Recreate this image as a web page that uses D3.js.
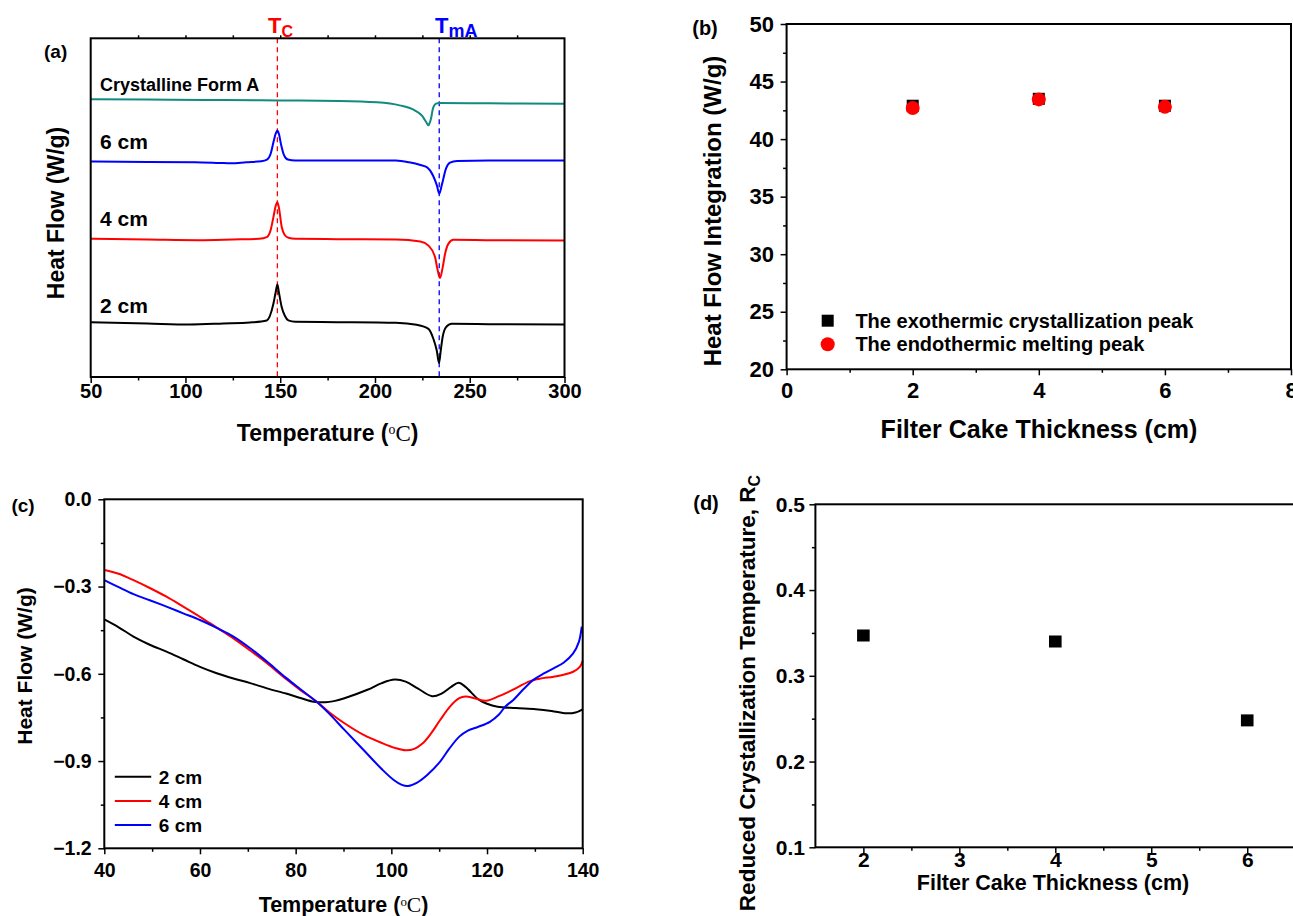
<!DOCTYPE html>
<meta charset="utf-8">
<style>
body { margin: 0; background: #fff; }
svg { display: block; }
text { font-family: "Liberation Sans", Arial, sans-serif; font-weight: bold; fill: #000; }
.frame { fill: none; stroke: #000; stroke-width: 2; }
.axis path { display: none; }
.axis line { stroke: #000; stroke-width: 1.5; }
.curve { fill: none; stroke-width: 2; }
</style>
<body>
<script src="https://d3js.org/d3.v7.min.js"></script>
<script>

// ---------- data ----------
// (a) DSC curves, [temperature, heat flow (a.u., stacked)]
var formA = [[50,8.20],[80,8.19],[110,8.18],[140,8.17],[160,8.16],[181,8.15],[201,8.11],[213,8.02],[221,7.87],
  [225,7.70],[226.4,7.58],[227.5,7.48],[228.2,7.43],[229,7.52],[229.6,7.64],[230.6,7.93],[232.2,8.07],[234,8.09],
  [260,8.08],[300,8.07]];
var a6cm = [[50,6.36],[80,6.35],[105,6.34],[118,6.32],[124,6.31],[132,6.34],[140,6.37],[143,6.42],[145,6.6],
  [146.5,6.95],[147.7,7.2],[148.5,7.28],[149.3,7.18],[150.5,6.85],[152,6.55],[154,6.42],[158,6.39],[180,6.39],
  [211,6.39],[218,6.34],[224,6.26],[227.5,6.19],[230.6,5.95],[232.7,5.65],[233.9,5.41],[235.3,5.68],[237.5,6.16],
  [239.6,6.33],[243.3,6.38],[260,6.39],[300,6.39]];
var a4cm = [[50,4.08],[80,4.06],[107,4.04],[125,4.06],[139,4.08],[142.9,4.13],[145,4.35],[146.4,4.72],[147.6,5.05],
  [148.5,5.16],[149.3,5.0],[150.8,4.43],[152.3,4.2],[154.3,4.11],[158,4.08],[180,4.07],[211,4.06],[223.9,4.00],
  [228.2,3.88],[231.7,3.54],[232.9,3.20],[234.3,2.92],[235.7,3.23],[237,3.64],[238.7,3.93],[241.3,4.05],
  [260,4.04],[300,4.03]];
var a2cm = [[50,1.62],[80,1.58],[102,1.55],[120,1.58],[134,1.61],[142.9,1.67],[146.4,2.16],[147.6,2.5],[148.5,2.73],
  [149.3,2.5],[150.8,2.06],[152.5,1.8],[154.3,1.67],[158,1.63],[180,1.62],[211,1.60],[222,1.54],[228.2,1.42],
  [230.8,1.13],[232.6,0.78],[233.8,0.41],[234.7,0.78],[235.7,1.18],[237.5,1.47],[240.5,1.57],[260,1.56],[300,1.55]];
var tempTc = 148.5, tempTmA = 233.9;

// (b) heat flow integration
var thicknessB = [2, 4, 6];
var exoPeak = [42.9, 43.5, 42.9];
var endoPeak = [42.7, 43.45, 42.8];

// (c) heat flow, [temperature, W/g]
var c2cm = [[40,-0.413],[43,-0.44],[46.1,-0.472],[49.5,-0.50],[53,-0.524],[56.5,-0.55],[60,-0.576],[63.5,-0.598],
  [67,-0.616],[70.5,-0.632],[74,-0.650],[78,-0.668],[81,-0.683],[83.8,-0.696],[86.2,-0.698],[88,-0.694],
  [90.2,-0.684],[95,-0.655],[98,-0.632],[100.7,-0.620],[103,-0.627],[105.5,-0.65],[108.5,-0.677],[110.5,-0.668],
  [112.5,-0.645],[114.1,-0.631],[115.5,-0.645],[118.2,-0.688],[120,-0.703],[122.2,-0.713],[126,-0.718],
  [130.2,-0.722],[133.5,-0.728],[136.6,-0.736],[138.5,-0.733],[140,-0.722]];
var c4cm = [[40,-0.243],[43,-0.256],[46.1,-0.278],[49.5,-0.305],[53,-0.335],[56.5,-0.369],[60,-0.404],[63.5,-0.441],
  [67,-0.478],[70.5,-0.52],[74,-0.564],[78,-0.618],[81,-0.656],[84.5,-0.697],[87,-0.732],[90.2,-0.770],
  [94.2,-0.810],[98.2,-0.839],[101,-0.856],[103,-0.863],[104.8,-0.858],[106.5,-0.840],[108.3,-0.805],[110.2,-0.759],
  [112.3,-0.712],[114.2,-0.684],[115.5,-0.678],[117.4,-0.684],[119.8,-0.693],[122.5,-0.677],[125,-0.658],
  [129,-0.625],[131,-0.617],[133.9,-0.610],[136,-0.603],[138,-0.593],[139.4,-0.576],[140,-0.555]];
var c6cm = [[40,-0.278],[43,-0.302],[46.1,-0.326],[49.5,-0.347],[53,-0.369],[56.5,-0.392],[60,-0.415],[63.5,-0.442],
  [67,-0.472],[70.5,-0.512],[74,-0.558],[78,-0.614],[81,-0.653],[84.5,-0.698],[87,-0.737],[90.2,-0.793],
  [94.2,-0.862],[98.2,-0.931],[100.5,-0.965],[102.2,-0.982],[103.5,-0.986],[105.3,-0.975],[107.5,-0.948],
  [110.2,-0.902],[112,-0.860],[114.2,-0.816],[116,-0.795],[118.2,-0.782],[120.6,-0.765],[122.5,-0.74],
  [123.8,-0.713],[125.5,-0.690],[127.5,-0.655],[129.7,-0.621],[132,-0.598],[133.9,-0.581],[136,-0.562],
  [138,-0.530],[139.2,-0.49],[139.8,-0.438]];
var legendC = ["2 cm", "4 cm", "6 cm"];

// (d) reduced crystallization temperature
var thicknessD = [2, 4, 6];
var rc = [0.347, 0.340, 0.248];

// ---------- helpers ----------
var svg = d3.select("body").append("svg").attr("width", 1293).attr("height", 916);

function addTicks(make, pos, major, minor, fmt, fs) {
  svg.append("g").attr("class", "axis").attr("transform", pos)
      .call(make().tickValues(minor).tickSize(3.5).tickFormat(""));
  var g = svg.append("g").attr("class", "axis").attr("transform", pos)
      .call(make().tickValues(major).tickSize(6).tickFormat(fmt));
  g.attr("font-family", null).attr("font-size", null);
  g.selectAll("text").style("font-size", fs + "px");
  return g;
}

function frame(x, y) {
  svg.append("rect").attr("class", "frame")
      .attr("x", x.range()[0]).attr("y", y.range()[1])
      .attr("width", x.range()[1] - x.range()[0])
      .attr("height", y.range()[0] - y.range()[1]);
}

function label(x, y, txt, fs, rot, anchor) {
  return svg.append("text")
      .attr("transform", "translate(" + x + "," + y + ")" + (rot ? " rotate(-90)" : ""))
      .attr("text-anchor", anchor || "middle")
      .style("font-size", fs + "px")
      .text(txt);
}

function tempTitle(x, y, fs) {
  var t = label(x, y, "Temperature (", fs);
  t.append("tspan").style("font-family", "'Liberation Serif', serif").style("font-weight", "normal")
      .style("font-size", (fs * 0.6) + "px").attr("dy", -fs * 0.3).text("o");
  t.append("tspan").style("font-family", "'Liberation Serif', serif").style("font-weight", "normal")
      .attr("dy", fs * 0.3).text("C");
  t.append("tspan").text(")");
}

// ---------- panel (a) ----------
var xA = d3.scaleLinear().domain([50, 300]).range([90.7, 564.5]);
var yA = d3.scaleLinear().domain([0, 10]).range([377, 38.3]);

var lineA = d3.line().x(function(d) { return xA(d[0]); }).y(function(d) { return yA(d[1]); })
    .curve(d3.curveMonotoneX);

// dashed reference lines
svg.append("line").attr("x1", xA(tempTc)).attr("x2", xA(tempTc)).attr("y1", yA(10)).attr("y2", yA(0))
    .attr("stroke", "#ff0000").attr("stroke-width", 1.3).attr("stroke-dasharray", "5,4");
svg.append("line").attr("x1", xA(tempTmA)).attr("x2", xA(tempTmA)).attr("y1", yA(10)).attr("y2", yA(0))
    .attr("stroke", "#0000ff").attr("stroke-width", 1.3).attr("stroke-dasharray", "5,4");

[[formA, "#138a80"], [a6cm, "#0000ff"], [a4cm, "#ff0000"], [a2cm, "#000000"]].forEach(function(s) {
  svg.append("path").attr("class", "curve").attr("d", lineA(s[0])).attr("stroke", s[1]);
});

frame(xA, yA);
var axA = addTicks(function() { return d3.axisBottom(xA); }, "translate(0," + yA(0) + ")",
    [50, 100, 150, 200, 250, 300], [75, 125, 175, 225, 275], d3.format("d"), 20);
axA.selectAll("text").attr("y", 21).attr("dy", 0);
svg.append("g").attr("class", "axis").attr("transform", "translate(0," + yA(10) + ")")
    .call(d3.axisTop(xA).tickValues([75, 100, 125, 150, 175, 200, 225, 250, 275]).tickSize(3).tickFormat(""));

tempTitle(327.6, 441, 23);
label(64, 213, "Heat Flow (W/g)", 23, true);
label(44, 58, "(a)", 19, false, "start");
label(100, 90.7, "Crystalline Form A", 18, false, "start");
label(100, 149.3, "6 cm", 21, false, "start");
label(100, 225.7, "4 cm", 21, false, "start");
label(100, 312.7, "2 cm", 21, false, "start");

var tc = label(268, 33, "", 22, false, "start").style("fill", "#ff0000");
tc.append("tspan").text("T");
tc.append("tspan").style("font-size", "16px").attr("dy", 4).text("C");
var tm = label(435, 33, "", 22, false, "start").style("fill", "#0000ff");
tm.append("tspan").text("T");
tm.append("tspan").style("font-size", "18px").attr("dy", 4).text("mA");

// ---------- panel (b) ----------
var xB = d3.scaleLinear().domain([0, 8]).range([786.6, 1291]);
var yB = d3.scaleLinear().domain([20, 50]).range([369.3, 24]);

frame(xB, yB);
var axBx = addTicks(function() { return d3.axisBottom(xB); }, "translate(0," + yB(20) + ")",
    [0, 2, 4, 6, 8], [1, 3, 5, 7], d3.format("d"), 22);
axBx.selectAll("text").attr("y", 29).attr("dy", 0);
var axBy = addTicks(function() { return d3.axisLeft(yB); }, "translate(" + xB(0) + ",0)",
    [20, 25, 30, 35, 40, 45, 50], [22.5, 27.5, 32.5, 37.5, 42.5, 47.5], d3.format("d"), 22);
axBy.selectAll("text").attr("x", -12.6);

svg.selectAll(".sqB").data(thicknessB).enter().append("rect")
    .attr("x", function(d) { return xB(d) - 6; })
    .attr("y", function(d, i) { return yB(exoPeak[i]) - 6; })
    .attr("width", 12).attr("height", 12).attr("fill", "#000");
svg.selectAll(".ciB").data(thicknessB).enter().append("circle")
    .attr("cx", function(d) { return xB(d); })
    .attr("cy", function(d, i) { return yB(endoPeak[i]); })
    .attr("r", 7).attr("fill", "#ff0000");

// legend
svg.append("rect").attr("x", 821.7).attr("y", 314.7).attr("width", 12).attr("height", 12).attr("fill", "#000");
svg.append("circle").attr("cx", 827.7).attr("cy", 344.3).attr("r", 7).attr("fill", "#ff0000");
label(855.4, 327.8, "The exothermic crystallization peak", 20, false, "start");
label(855.4, 351.4, "The endothermic melting peak", 20, false, "start");

label(1039, 438, "Filter Cake Thickness (cm)", 25, false);
label(721, 211, "Heat Flow Integration (W/g)", 24, true);
label(705, 35, "(b)", 20, false);

// ---------- panel (c) ----------
var xC = d3.scaleLinear().domain([40, 140]).range([104.3, 582.7]);
var yC = d3.scaleLinear().domain([-1.2, 0]).range([848.3, 499.3]);

var lineC = d3.line().x(function(d) { return xC(d[0]); }).y(function(d) { return yC(d[1]); })
    .curve(d3.curveCatmullRom.alpha(0.5));
var colorsC = ["#000000", "#ff0000", "#0000ff"];
[c2cm, c4cm, c6cm].forEach(function(s, i) {
  svg.append("path").attr("class", "curve").attr("d", lineC(s)).attr("stroke", colorsC[i]);
});

frame(xC, yC);
var axCx = addTicks(function() { return d3.axisBottom(xC); }, "translate(0," + yC(-1.2) + ")",
    [40, 60, 80, 100, 120, 140], [50, 70, 90, 110, 130], d3.format("d"), 19.5);
axCx.selectAll("text").attr("y", 28.5).attr("dy", 0);
var axCy = addTicks(function() { return d3.axisLeft(yC); }, "translate(" + xC(40) + ",0)",
    [-1.2, -0.9, -0.6, -0.3, 0], [-1.05, -0.75, -0.45, -0.15], d3.format(".1f"), 19.5);
axCy.selectAll("text").attr("x", -12.6);

legendC.forEach(function(name, i) {
  var ly = 776.7 + i * 24.2;
  svg.append("line").attr("x1", 114.8).attr("x2", 151.2).attr("y1", ly).attr("y2", ly)
      .attr("stroke", colorsC[i]).attr("stroke-width", 2);
  label(158.8, ly + 6.8, name, 19, false, "start");
});

tempTitle(343.5, 912, 21.5);
label(32, 666, "Heat Flow (W/g)", 21, true);
label(23, 512, "(c)", 19, false);

// ---------- panel (d) ----------
var xD = d3.scaleLinear().domain([1.5, 6.5]).range([815.4, 1295.2]);
var yD = d3.scaleLinear().domain([0.1, 0.5]).range([847.3, 504.3]);

frame(xD, yD);
var axDx = addTicks(function() { return d3.axisBottom(xD); }, "translate(0," + yD(0.1) + ")",
    [2, 3, 4, 5, 6], [2.5, 3.5, 4.5, 5.5], d3.format("d"), 21);
axDx.selectAll("text").attr("y", 20).attr("dy", 0);
var axDy = addTicks(function() { return d3.axisLeft(yD); }, "translate(" + xD(1.5) + ",0)",
    [0.1, 0.2, 0.3, 0.4, 0.5], [0.15, 0.25, 0.35, 0.45], d3.format(".1f"), 21);
axDy.selectAll("text").attr("x", -10.5);

svg.selectAll(".sqD").data(thicknessD).enter().append("rect")
    .attr("x", function(d) { return xD(d) - 6.3; })
    .attr("y", function(d, i) { return yD(rc[i]) - 6; })
    .attr("width", 12.6).attr("height", 12).attr("fill", "#000");

label(1053, 890, "Filter Cake Thickness (cm)", 21.5, false);
var rt = label(755, 693, "Reduced Crystallization Temperature, R", 22.5, true);
rt.append("tspan").style("font-size", "16px").attr("dy", 5).text("C");
label(706, 510, "(d)", 20, false);

</script>
</body>
